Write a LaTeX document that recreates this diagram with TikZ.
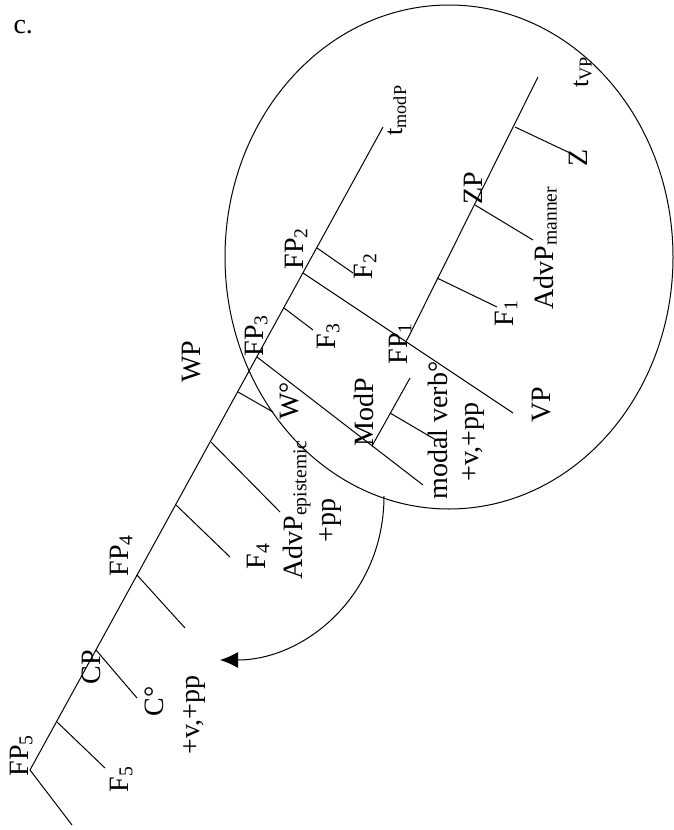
\documentclass[tikz,border=0pt]{standalone}
\usepackage{fontspec}
\setmainfont{Liberation Serif}
\usetikzlibrary{arrows.meta}
\begin{document}
\begin{tikzpicture}[x=1pt,y=-1pt,line width=1pt,
  lbl/.style={rotate=90,anchor=base west,inner sep=0pt,font=\fontsize{28}{30}\selectfont},
  tlbl/.style={rotate=90,anchor=base west,inner sep=0pt,font=\fontsize{26}{28}\selectfont},
  plain/.style={anchor=base west,inner sep=0pt,font=\fontsize{28}{30}\selectfont}]
\useasboundingbox (0,0) rectangle (674,830);
% vertices
\coordinate (fp5) at (30,770);
\coordinate (fp5b) at (72,825);
\coordinate (top) at (383,127);
\coordinate (s5) at (57,722);   \coordinate (f5e) at (105,768);
\coordinate (cp) at (96,650);   \coordinate (ce) at (137,698);
\coordinate (fp4) at (137,575); \coordinate (fp4e) at (185,628);
\coordinate (s4) at (176,505);  \coordinate (f4e) at (230,557);
\coordinate (sa) at (211,442);  \coordinate (adve) at (280,512);
\coordinate (sw) at (238,392);  \coordinate (we) at (273,412);
\coordinate (fp3) at (257,357); \coordinate (mpe) at (423,485);
\coordinate (s3) at (284,308);  \coordinate (f3e) at (313,330);
\coordinate (fp2) at (303,273); \coordinate (vpe) at (513,413);
\coordinate (s2) at (317,248);  \coordinate (f2e) at (353,273);
\coordinate (modp) at (372,446); \coordinate (modt) at (410,378);
\coordinate (mv) at (390,413);  \coordinate (mve) at (436,440);
\coordinate (fp1) at (407,340); \coordinate (tvp) at (538,77);
\coordinate (s1) at (437,278);  \coordinate (f1e) at (497,307);
\coordinate (zp) at (475,205);  \coordinate (ame) at (533,240);
\coordinate (sz) at (515,127);  \coordinate (ze) at (570,153);
\coordinate (arcs) at (384,496); \coordinate (arce) at (220,660);
% lines
\draw (fp5) -- (top);
\draw (fp5) -- (fp5b);
\draw (s5) -- (f5e);
\draw (cp) -- (ce);
\draw (fp4) -- (fp4e);
\draw (s4) -- (f4e);
\draw (sa) -- (adve);
\draw (sw) -- (we);
\draw (fp3) -- (mpe);
\draw (s3) -- (f3e);
\draw (fp2) -- (vpe);
\draw (s2) -- (f2e);
\draw (modp) -- (modt);
\draw (mv) -- (mve);
\draw (fp1) -- (tvp);
\draw (s1) -- (f1e);
\draw (zp) -- (ame);
\draw (sz) -- (ze);
% ellipse
\draw (449,257) ellipse [x radius=224, y radius=252];
% arrow
\draw[-{Latex[length=18pt,width=16pt]}] (arcs) .. controls (384,595) and (305,660) .. (arce);
% labels
\node[plain] (lc) at (13,33) {c.};
\node[lbl] (lfp5) at (28,777) {FP\textsubscript{5}};
\node[lbl] (lf5) at (128,793) {F\textsubscript{5}};
\node[lbl] (lcp) at (100,685) {CP};
\node[lbl] (lc0) at (163,717) {C°};
\node[lbl] (lvpp) at (199,755) {+v,+pp};
\node[lbl] (lfp4) at (128,577) {FP\textsubscript{4}};
\node[lbl] (lf4) at (265,570) {F\textsubscript{4}};
\node[lbl] (lade) at (302,580) {AdvP\textsubscript{epistemic}};
\node[lbl] (lpp) at (335,543) {+pp};
\node[lbl] (lw0) at (298,420) {W°};
\node[lbl] (lwp) at (200,383) {WP};
\node[lbl] (lfp3) at (263,357) {FP\textsubscript{3}};
\node[lbl] (lf3) at (335,350) {F\textsubscript{3}};
\node[lbl] (lfp2) at (303,270) {FP\textsubscript{2}};
\node[lbl] (lf2) at (372,280) {F\textsubscript{2}};
\node[tlbl] (ltm) at (402,136) {t\textsubscript{modP}};
\node[lbl] (lfp1) at (407,365) {FP\textsubscript{1}};
\node[lbl] (lmodp) at (373,447) {ModP};
\node[lbl] (lmv) at (447,500) {modal verb°};
\node[lbl] (lvpp2) at (478,482) {+v,+pp};
\node[lbl] (lvp) at (550,423) {VP};
\node[lbl] (lf1) at (513,327) {F\textsubscript{1}};
\node[lbl] (lam) at (553,310) {AdvP\textsubscript{manner}};
\node[lbl] (lzp) at (482,205) {ZP};
\node[lbl] (lz) at (587,167) {Z};
\node[tlbl] (ltvp) at (588,88) {t\textsubscript{VP}};
\end{tikzpicture}
\end{document}
